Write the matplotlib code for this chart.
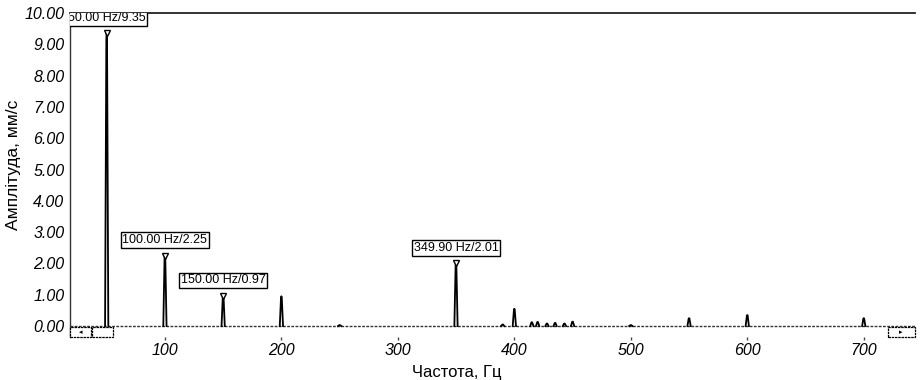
import matplotlib
matplotlib.use("Agg")
import matplotlib.pyplot as plt
from matplotlib.patches import Rectangle
import numpy as np

# Spectrum peaks (frequency Hz, amplitude mm/s)
peak_freqs = [50.0, 100.0, 150.0, 200.0, 250.0, 349.9, 390.0, 400.0, 415.0, 420.0,
              428.0, 435.0, 443.0, 450.0, 500.0, 550.0, 600.0, 700.0]
peak_amps = [9.35, 2.25, 0.97, 0.95, 0.03, 2.01, 0.05, 0.55, 0.12, 0.13,
             0.08, 0.10, 0.08, 0.14, 0.03, 0.25, 0.35, 0.25]

# Annotated peaks
ann_freqs = [50.0, 100.0, 150.0, 349.9]
ann_amps = [9.35, 2.25, 0.97, 2.01]
ann_labels = ["50.00 Hz/9.35", "100.00 Hz/2.25", "150.00 Hz/0.97", "349.90 Hz/2.01"]

x_ticks = [100, 200, 300, 400, 500, 600, 700]
y_ticks = [0, 1, 2, 3, 4, 5, 6, 7, 8, 9, 10]

fig = plt.figure(figsize=(9.22, 3.8), dpi=100)
ax = fig.add_axes([70/922, 1-337/380, (915-70)/922, (337-13)/380])

xmin, xmax = 18.5, 744.0
ax.set_xlim(xmin, xmax)
ax.set_ylim(-0.35, 10.0)

# baseline
ax.plot([xmin, xmax], [0, 0], color="#333333", lw=1.0, ls=(0, (2, 1)), zorder=2)

# peaks
hw = 1.4
for f, a in zip(peak_freqs, peak_amps):
    ax.plot([f - hw, f - 0.3, f, f + 0.3, f + hw], [0, a * 0.98, a, a * 0.98, 0],
            color="black", lw=1.3, zorder=3)

# annotations
for f, a, lab in zip(ann_freqs, ann_amps, ann_labels):
    ax.plot([f], [a], marker="v", ms=5, mfc="white", mec="black", mew=1.0, zorder=4)
    t = ax.annotate(lab, xy=(f, a), xytext=(0, 11), textcoords="offset points",
                    ha="center", va="center", fontsize=9, family="Liberation Sans",
                    bbox=dict(boxstyle="square,pad=0.15", fc="white", ec="black", lw=1.0),
                    annotation_clip=False, zorder=5)
    t.set_clip_path(ax.patch)
    t.get_bbox_patch().set_clip_path(ax.patch)

# scrollbar decorations
trans = ax.transAxes
def px_rect(x0, x1):
    return Rectangle(((x0 - 70) / 845, 0), (x1 - x0) / 845, 10 / 324, transform=trans,
                     fc="white", ec="black", lw=0.9, ls=(0, (2, 0.6)), clip_on=False, zorder=6)
ax.add_patch(px_rect(70, 91))
ax.add_patch(px_rect(92, 113))
ax.add_patch(px_rect(888, 915))
ax.text((80.5 - 70) / 845, 5 / 324, "◂", transform=trans, ha="center", va="center",
        fontsize=5, zorder=7)
ax.text((901 - 70) / 845, 5 / 324, "▸", transform=trans, ha="center", va="center",
        fontsize=5, zorder=7)

# spines
for s in ["right", "bottom"]:
    ax.spines[s].set_visible(False)
ax.spines["top"].set_color("#222222")
ax.spines["top"].set_linewidth(1.3)
ax.spines["left"].set_linestyle((0, (1.5, 1)))
ax.spines["left"].set_color("#333333")
ax.spines["left"].set_linewidth(1.0)

ax.set_xticks(x_ticks)
ax.set_xticklabels([str(v) for v in x_ticks], fontsize=11.5, style="italic",
                   family="Liberation Sans")
ax.set_yticks(y_ticks)
ax.set_yticklabels([f"{v:.2f}" for v in y_ticks], fontsize=11.5, style="italic",
                   family="Liberation Sans")
ax.tick_params(axis="x", length=2, width=1, pad=2, color="#444444")
ax.tick_params(axis="y", length=0, pad=4)

ax.set_xlabel("Частота, Гц", fontsize=12, family="Liberation Sans")
ax.xaxis.set_label_coords((457 - 70) / 845, -0.086)
ax.set_ylabel("Амплітуда, мм/с", fontsize=12.5, family="Liberation Sans")
ax.yaxis.set_label_coords(-0.058, 0.53)

fig.savefig("out.png", dpi=100)
